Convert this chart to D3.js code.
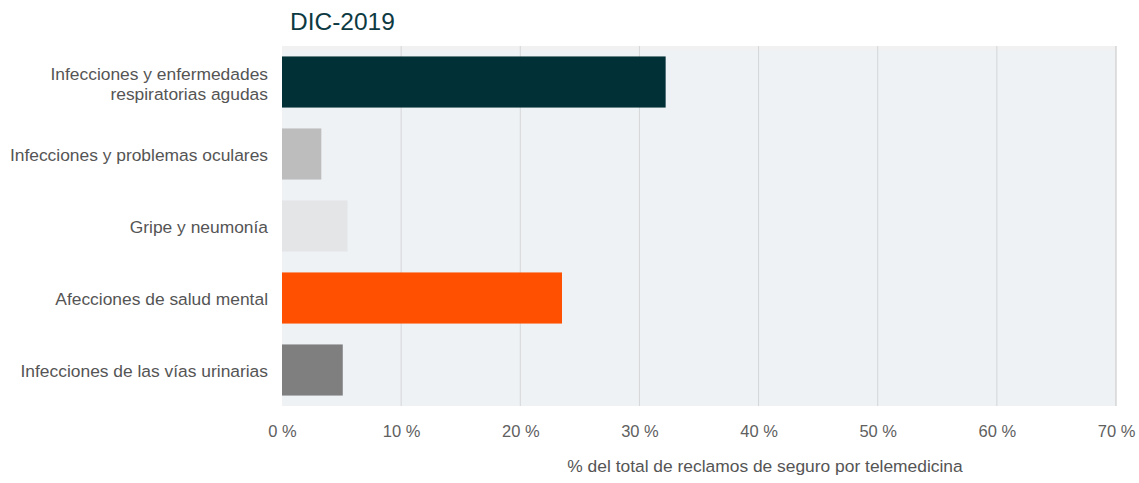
<!DOCTYPE html>
<html lang="es">
<head>
    <meta charset="UTF-8">
    <title>DIC-2019</title>
    <script src="https://d3js.org/d3.v7.min.js"></script>
    <style>
        body {
            margin: 0;
            background: #ffffff;
            font-family: "Liberation Sans", Arial, sans-serif;
        }
        .tick text { fill: #606060; }
        .cat-label { fill: #555; font-size: 17.4px; }
    </style>
</head>
<body>
<div id="chart"></div>
<script>

const categories = [
    ["Infecciones y enfermedades", "respiratorias agudas"],
    ["Infecciones y problemas oculares"],
    ["Gripe y neumonía"],
    ["Afecciones de salud mental"],
    ["Infecciones de las vías urinarias"]
];
const values = [32.2, 3.3, 5.5, 23.5, 5.1];
const barColors = ["#023037", "#bdbdbd", "#e3e5e7", "#fe5000", "#7f7f7f"];
const xTicks = [0, 10, 20, 30, 40, 50, 60, 70];

const W = 1139, H = 483;
const margin = { top: 46, right: 23, bottom: 77, left: 282 };
const width = W - margin.left - margin.right;
const height = H - margin.top - margin.bottom;

const svg = d3.select("#chart")
    .append("svg")
    .attr("width", W)
    .attr("height", H);

const g = svg.append("g")
    .attr("transform", `translate(${margin.left},${margin.top})`);

const x = d3.scaleLinear().domain([0, 70]).range([0, width]);
const y = d3.scaleBand()
    .domain(d3.range(categories.length))
    .range([0, height])
    .paddingInner(0.29)
    .paddingOuter(0.145);

// plot background
g.append("rect")
    .attr("width", width)
    .attr("height", height)
    .attr("fill", "#eef2f5");
g.append("rect")
    .attr("width", width)
    .attr("height", 4)
    .attr("fill", "#f1f1f1");

// grid
g.append("g")
    .selectAll("line")
    .data(xTicks.slice(1))
    .join("line")
    .attr("x1", d => x(d)).attr("x2", d => x(d))
    .attr("y1", 0).attr("y2", height)
    .attr("stroke", d => d === 70 ? "#c4c4c4" : "#d4d6d8")
    .attr("stroke-width", 1);

// bars
g.selectAll(".bar")
    .data(values)
    .join("rect")
    .attr("class", "bar")
    .attr("x", 0)
    .attr("y", (d, i) => y(i))
    .attr("width", d => x(d))
    .attr("height", y.bandwidth())
    .attr("fill", (d, i) => barColors[i]);

// x axis
const xAxis = g.append("g")
    .attr("transform", `translate(0,${height})`)
    .call(d3.axisBottom(x).tickValues(xTicks).tickFormat(d => `${d} %`).tickSize(0).tickPadding(19));
xAxis.select(".domain").remove();
xAxis.selectAll("text")
    .style("font-size", "16.5px")
    .style("font-family", "'Liberation Sans', Arial, sans-serif");

// category labels
categories.forEach((lines, i) => {
    const cy = y(i) + y.bandwidth() / 2;
    const t = g.append("text")
        .attr("class", "cat-label")
        .attr("text-anchor", "end")
        .attr("y", cy + 7 - (lines.length - 1) * 9);
    lines.forEach((ln, j) => {
        t.append("tspan")
            .attr("x", -14)
            .attr("dy", j === 0 ? 0 : 20)
            .text(ln);
    });
});

// title
svg.append("text")
    .attr("x", 290)
    .attr("y", 30)
    .attr("fill", "#0d3a42")
    .style("font-size", "24.5px")
    .text("DIC-2019");

// axis title
svg.append("text")
    .attr("x", 765)
    .attr("y", 472)
    .attr("text-anchor", "middle")
    .attr("fill", "#555")
    .style("font-size", "17.4px")
    .text("% del total de reclamos de seguro por telemedicina");
</script>
</body>
</html>
